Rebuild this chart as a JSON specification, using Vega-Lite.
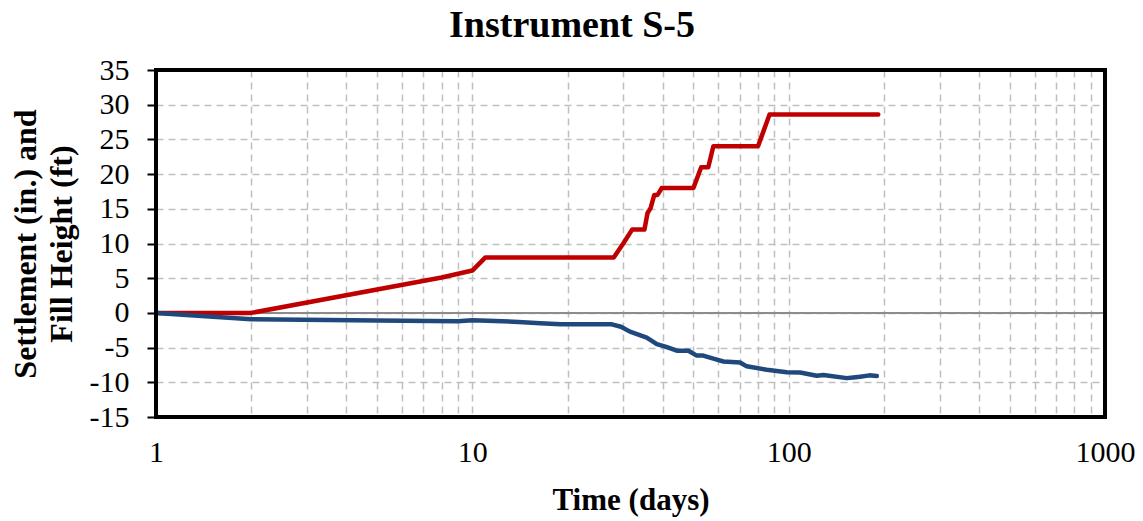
{
  "$schema": "https://vega.github.io/schema/vega-lite/v6.json",
  "autosize": "none",
  "width": 949,
  "height": 347,
  "padding": {"left": 156, "top": 70, "right": 38, "bottom": 104},
  "background": "white",
  "config": {
    "font": "Liberation Serif",
    "view": {"stroke": null}
  },
  "title": {
    "text": "Instrument S-5",
    "font": "Liberation Serif",
    "fontSize": 38,
    "fontWeight": "bold",
    "color": "black",
    "offset": 10,
    "anchor": "middle",
    "frame": "bounds"
  },
  "data": {
    "values": [
      {"t": 1, "v": 0, "s": "Fill"},
      {"t": 2, "v": 0, "s": "Fill"},
      {"t": 8, "v": 5.1, "s": "Fill"},
      {"t": 10, "v": 6.1, "s": "Fill"},
      {"t": 11, "v": 8, "s": "Fill"},
      {"t": 20, "v": 8, "s": "Fill"},
      {"t": 28, "v": 8, "s": "Fill"},
      {"t": 30, "v": 10, "s": "Fill"},
      {"t": 32, "v": 12, "s": "Fill"},
      {"t": 35, "v": 12, "s": "Fill"},
      {"t": 35.8, "v": 14.4, "s": "Fill"},
      {"t": 36.6, "v": 15.1, "s": "Fill"},
      {"t": 37.6, "v": 17, "s": "Fill"},
      {"t": 38.5, "v": 17, "s": "Fill"},
      {"t": 39.7, "v": 18, "s": "Fill"},
      {"t": 50, "v": 18, "s": "Fill"},
      {"t": 52.9, "v": 21, "s": "Fill"},
      {"t": 55.7, "v": 21, "s": "Fill"},
      {"t": 57.8, "v": 24, "s": "Fill"},
      {"t": 80, "v": 24, "s": "Fill"},
      {"t": 87, "v": 28.6, "s": "Fill"},
      {"t": 192, "v": 28.6, "s": "Fill"},
      {"t": 1, "v": 0, "s": "Settlement"},
      {"t": 2, "v": -0.9, "s": "Settlement"},
      {"t": 5, "v": -1.1, "s": "Settlement"},
      {"t": 9, "v": -1.2, "s": "Settlement"},
      {"t": 10, "v": -1.05, "s": "Settlement"},
      {"t": 14, "v": -1.3, "s": "Settlement"},
      {"t": 16.4, "v": -1.5, "s": "Settlement"},
      {"t": 19, "v": -1.65, "s": "Settlement"},
      {"t": 27.6, "v": -1.65, "s": "Settlement"},
      {"t": 29.5, "v": -2.0, "s": "Settlement"},
      {"t": 31.5, "v": -2.7, "s": "Settlement"},
      {"t": 35.6, "v": -3.55, "s": "Settlement"},
      {"t": 38.3, "v": -4.5, "s": "Settlement"},
      {"t": 41, "v": -4.9, "s": "Settlement"},
      {"t": 44.3, "v": -5.45, "s": "Settlement"},
      {"t": 48.2, "v": -5.45, "s": "Settlement"},
      {"t": 51.2, "v": -6.15, "s": "Settlement"},
      {"t": 53.7, "v": -6.15, "s": "Settlement"},
      {"t": 57.8, "v": -6.6, "s": "Settlement"},
      {"t": 62.2, "v": -7.0, "s": "Settlement"},
      {"t": 70.2, "v": -7.15, "s": "Settlement"},
      {"t": 73.7, "v": -7.7, "s": "Settlement"},
      {"t": 85.3, "v": -8.2, "s": "Settlement"},
      {"t": 98.6, "v": -8.55, "s": "Settlement"},
      {"t": 108.7, "v": -8.6, "s": "Settlement"},
      {"t": 122.7, "v": -9.05, "s": "Settlement"},
      {"t": 128.8, "v": -8.95, "s": "Settlement"},
      {"t": 152.7, "v": -9.4, "s": "Settlement"},
      {"t": 160, "v": -9.3, "s": "Settlement"},
      {"t": 168, "v": -9.2, "s": "Settlement"},
      {"t": 180, "v": -9.0, "s": "Settlement"},
      {"t": 190, "v": -9.1, "s": "Settlement"}
    ]
  },
  "layer": [
    {
      "mark": {"type": "rule", "color": "#8c8c8c", "strokeWidth": 1.5},
      "encoding": {
        "y": {"datum": 0, "type": "quantitative"}
      }
    },
    {
      "mark": {"type": "line", "strokeWidth": 4.5, "strokeJoin": "round", "strokeCap": "round"},
      "encoding": {
        "x": {
          "field": "t",
          "type": "quantitative",
          "scale": {"type": "log", "domain": [1, 1000], "nice": false},
          "axis": {
            "title": "Time (days)",
            "titleFont": "Liberation Serif",
            "titleFontSize": 31,
            "titleFontWeight": "bold",
            "titleColor": "black",
            "titlePadding": 18,
            "values": [1,2,3,4,5,6,7,8,9,10,20,30,40,50,60,70,80,90,100,200,300,400,500,600,700,800,900,1000],
            "tickCount": 40,
            "format": "d",
            "labelExpr": "indexof([1,10,100,1000], datum.value) >= 0 ? datum.label : ''",
            "labelFont": "Liberation Serif",
            "labelFontSize": 30,
            "labelColor": "black",
            "labelPadding": 20,
            "labelFlush": false,
            "labelOverlap": false,
            "ticks": false,
            "domain": false,
            "grid": true,
            "gridColor": "#bfbfbf",
            "gridDash": [7, 5],
            "gridWidth": 1.5
          }
        },
        "y": {
          "field": "v",
          "type": "quantitative",
          "scale": {"domain": [-15, 35], "nice": false, "zero": false},
          "axis": {
            "title": ["Settlement (in.) and", "Fill Height (ft)"],
            "titleFont": "Liberation Serif",
            "titleFontSize": 32,
            "titleFontWeight": "bold",
            "titleColor": "black",
            "titleLineHeight": 36,
            "titlePadding": 11,
            "values": [-15,-10,-5,0,5,10,15,20,25,30,35],
            "tickCount": 20,
            "labelExpr": "'' + datum.value",
            "labelFont": "Liberation Serif",
            "labelFontSize": 30,
            "labelColor": "black",
            "labelPadding": 18,
            "labelOverlap": false,
            "ticks": true,
            "tickColor": "black",
            "tickSize": 9,
            "tickWidth": 2,
            "domain": false,
            "grid": true,
            "gridColor": "#bfbfbf",
            "gridDash": [7, 5],
            "gridWidth": 1.5
          }
        },
        "color": {
          "field": "s",
          "type": "nominal",
          "scale": {"domain": ["Fill", "Settlement"], "range": ["#C00000", "#1F497D"]},
          "legend": null
        }
      }
    },
    {
      "data": {"values": [{"x1": 1, "x2": 1000, "y1": -15, "y2": 35}]},
      "mark": {"type": "rect", "fill": null, "stroke": "black", "strokeWidth": 4},
      "encoding": {
        "x": {"field": "x1", "type": "quantitative"},
        "x2": {"field": "x2"},
        "y": {"field": "y1", "type": "quantitative"},
        "y2": {"field": "y2"}
      }
    }
  ]
}
